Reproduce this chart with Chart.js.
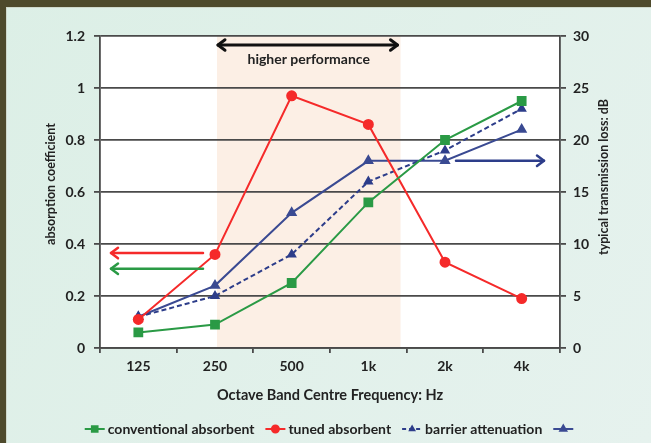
<!DOCTYPE html>
<html>
<head>
<meta charset="utf-8">
<script src="https://cdn.jsdelivr.net/npm/chart.js@4/dist/chart.umd.min.js"></script>
<style>
  html, body { margin: 0; padding: 0; background: #e2f0ea; }
  #wrap { position: relative; width: 651px; height: 443px; }
  canvas { display: block; }
</style>
</head>
<body>
<div id="wrap"><canvas id="c" width="651" height="443"></canvas></div>
<script>
// ---- data ----
const categories = ['125', '250', '500', '1k', '2k', '4k'];
const conventionalAbsorbent = [0.06, 0.09, 0.25, 0.56, 0.80, 0.95];
const tunedAbsorbent = [0.11, 0.36, 0.97, 0.86, 0.33, 0.19];
const barrierAttenuation = [3, 5, 9, 16, 19, 23];
const unnamedSeries = [3, 6, 13, 18, 18, 21];
const leftTicks = [0, 0.2, 0.4, 0.6, 0.8, 1, 1.2];
const rightTicks = [0, 5, 10, 15, 20, 25, 30];

const FONT = 'Lato, "Open Sans", sans-serif';
const GREEN = '#2a9a45', RED = '#f52a2a', NAVY_D = '#2d3d8a', NAVY = '#3a4a92';
const GRID = '#4a4a4a';

// decorative annotations (levels read on their axes)
const leftArrowLevels = [{ v: 0.365, color: RED }, { v: 0.305, color: GREEN }];
const rightArrowLevel = { v: 18, color: NAVY_D };

function chevron(ctx, x, y, dir, size) {
  ctx.beginPath();
  ctx.moveTo(x - dir * size, y - size * 0.75);
  ctx.lineTo(x, y);
  ctx.lineTo(x - dir * size, y + size * 0.75);
  ctx.stroke();
}
function arrow(ctx, x1, x2, y, color, w, both) {
  ctx.save();
  ctx.strokeStyle = color; ctx.lineWidth = w; ctx.lineCap = 'round'; ctx.lineJoin = 'round';
  ctx.beginPath(); ctx.moveTo(x1, y); ctx.lineTo(x2, y); ctx.stroke();
  chevron(ctx, x2, y, x2 > x1 ? 1 : -1, 7);
  if (both) chevron(ctx, x1, y, x1 > x2 ? 1 : -1, 7);
  ctx.restore();
}

const deco = {
  id: 'deco',
  beforeDraw(chart) {
    const ctx = chart.ctx, W = chart.width, H = chart.height;
    ctx.save();
    const g = ctx.createLinearGradient(0, 0, W, H);
    g.addColorStop(0, '#dcefe6'); g.addColorStop(1, '#e6f2ee');
    ctx.fillStyle = g; ctx.fillRect(0, 0, W, H);
    ctx.fillStyle = '#4e4a2c';
    ctx.fillRect(0, 0, W, 7);
    ctx.fillRect(0, 0, 6, H);
    ctx.fillStyle = '#cfd9cc';
    ctx.fillRect(6, 7, W - 6, 1);
    ctx.fillRect(6, 7, 1, H - 7);
    const a = chart.chartArea;
    ctx.fillStyle = '#ffffff';
    ctx.fillRect(a.left, a.top, a.right - a.left, a.bottom - a.top);
    const x = chart.scales.x;
    const step = x.getPixelForValue(1) - x.getPixelForValue(0);
    const s0 = x.getPixelForValue(1) + 2;
    const s1 = x.getPixelForValue(3) + step * 0.42;
    ctx.fillStyle = '#fcefe5';
    ctx.fillRect(s0, a.top, s1 - s0, a.bottom - a.top);
    ctx.restore();
  },
  afterDraw(chart) {
    const ctx = chart.ctx, a = chart.chartArea;
    const x = chart.scales.x, y = chart.scales.y, y2 = chart.scales.y2;
    const step = x.getPixelForValue(1) - x.getPixelForValue(0);
    // top double arrow + text
    const s0 = x.getPixelForValue(1) + 3;
    const s1 = x.getPixelForValue(3) + step * 0.38;
    arrow(ctx, s0, s1, a.top + 9, '#111', 3, true);
    ctx.save();
    ctx.fillStyle = '#222'; ctx.font = 'bold 14px ' + FONT;
    ctx.textAlign = 'center'; ctx.textBaseline = 'middle';
    ctx.fillText('higher performance', (s0 + s1) / 2 + 1, a.top + 23);
    ctx.restore();
    // left arrows
    leftArrowLevels.forEach(l => {
      const yy = y.getPixelForValue(l.v);
      arrow(ctx, x.getPixelForValue(1) - 12, a.left + 11, yy, l.color, 2.5, false);
    });
    // right arrow
    const ry = y2.getPixelForValue(rightArrowLevel.v);
    arrow(ctx, x.getPixelForValue(4) + 11, a.right - 16, ry, rightArrowLevel.color, 2.5, false);

    // axis titles
    ctx.save();
    ctx.fillStyle = '#222';
    ctx.font = 'bold 14.5px ' + FONT;
    ctx.textAlign = 'center'; ctx.textBaseline = 'middle';
    ctx.fillText('Octave Band Centre Frequency: Hz', (a.left + a.right) / 2, 395);
    ctx.save();
    ctx.translate(51, 184); ctx.rotate(-Math.PI / 2);
    ctx.font = 'bold 12.5px ' + FONT;
    ctx.fillText('absorption coefficient', 0, 0);
    ctx.restore();
    ctx.save();
    ctx.translate(604, 177); ctx.rotate(-Math.PI / 2);
    ctx.font = 'bold 12.5px ' + FONT;
    ctx.fillText('typical transmission loss: dB', 0, 0);
    ctx.restore();
    ctx.restore();

    // legend
    ctx.save();
    ctx.font = 'bold 14px ' + FONT;
    ctx.textBaseline = 'middle';
    const ly = 429;
    const items = chart.data.datasets.map(ds => ({
      text: ds.label, color: ds.borderColor, dash: ds.borderDash || [],
      style: ds.pointStyle, r: ds.legendRadius
    }));
    const sample = 20, gapT = 3, gapI = 11;
    let total = 0;
    items.forEach((it, i) => {
      total += sample + (it.text ? gapT + ctx.measureText(it.text).width : 0) + (i < items.length - 1 ? gapI : 0);
    });
    let cx = 329 - total / 2;
    items.forEach(it => {
      ctx.strokeStyle = it.color; ctx.lineWidth = 2; ctx.setLineDash(it.dash.length ? [4, 3] : []);
      ctx.beginPath(); ctx.moveTo(cx, ly); ctx.lineTo(cx + sample, ly); ctx.stroke();
      ctx.setLineDash([]);
      ctx.fillStyle = it.color;
      Chart.helpers.drawPoint(ctx, { pointStyle: it.style, radius: it.r, rotation: 0, borderWidth: 1 }, cx + sample / 2, ly);
      cx += sample;
      if (it.text) {
        cx += gapT;
        ctx.fillStyle = '#222';
        ctx.fillText(it.text, cx, ly);
        cx += ctx.measureText(it.text).width;
      }
      cx += gapI;
    });
    ctx.restore();
  }
};

new Chart(document.getElementById('c'), {
  type: 'line',
  data: {
    labels: categories,
    datasets: [
      { label: 'conventional absorbent', data: conventionalAbsorbent, yAxisID: 'y',
        borderColor: GREEN, backgroundColor: GREEN, borderWidth: 2,
        pointStyle: 'rect', pointRadius: 5.5, legendRadius: 4, tension: 0 },
      { label: 'tuned absorbent', data: tunedAbsorbent, yAxisID: 'y',
        borderColor: RED, backgroundColor: RED, borderWidth: 2,
        pointStyle: 'circle', pointRadius: 4.5, legendRadius: 3.5, tension: 0 },
      { label: 'barrier attenuation', data: barrierAttenuation, yAxisID: 'y2',
        borderColor: NAVY_D, backgroundColor: NAVY_D, borderWidth: 2, borderDash: [5, 3],
        pointStyle: 'triangle', pointRadius: 4, legendRadius: 2.5, tension: 0 },
      { label: '', data: unnamedSeries, yAxisID: 'y2',
        borderColor: NAVY, backgroundColor: NAVY, borderWidth: 2,
        pointStyle: 'triangle', pointRadius: 4.5, legendRadius: 3.5, tension: 0 }
    ]
  },
  options: {
    responsive: false,
    animation: false,
    layout: { padding: { top: 36, left: 0, right: 0, bottom: 0 } },
    plugins: { legend: { display: false }, tooltip: { enabled: false } },
    scales: {
      x: {
        type: 'category', offset: true,
        grid: { display: true, drawOnChartArea: false, drawTicks: true, tickLength: 5, color: GRID, lineWidth: 1.8, offset: true },
        border: { display: true, color: GRID, width: 1.8 },
        ticks: { color: '#222', font: { family: FONT, size: 14, weight: 'bold' }, padding: 5 },
        afterFit(s) { s.height = 95; }
      },
      y: {
        position: 'left', min: 0, max: 1.2,
        afterBuildTicks(s) { s.ticks = leftTicks.map(v => ({ value: v })); },
        grid: { color: GRID, lineWidth: 1.8, tickLength: 6, drawTicks: true },
        border: { display: true, color: GRID, width: 1.8 },
        ticks: { color: '#222', font: { family: FONT, size: 14, weight: 'bold' }, padding: 9,
                 callback: v => String(Math.round(v * 10) / 10) },
        afterFit(s) { s.width = 100; }
      },
      y2: {
        position: 'right', min: 0, max: 30,
        afterBuildTicks(s) { s.ticks = rightTicks.map(v => ({ value: v })); },
        grid: { drawOnChartArea: false, color: GRID, lineWidth: 1.8, tickLength: 6, drawTicks: true },
        border: { display: true, color: GRID, width: 1.8 },
        ticks: { color: '#222', font: { family: FONT, size: 14, weight: 'bold' }, padding: 7 },
        afterFit(s) { s.width = 91; }
      }
    }
  },
  plugins: [deco]
});
</script>
</body>
</html>
